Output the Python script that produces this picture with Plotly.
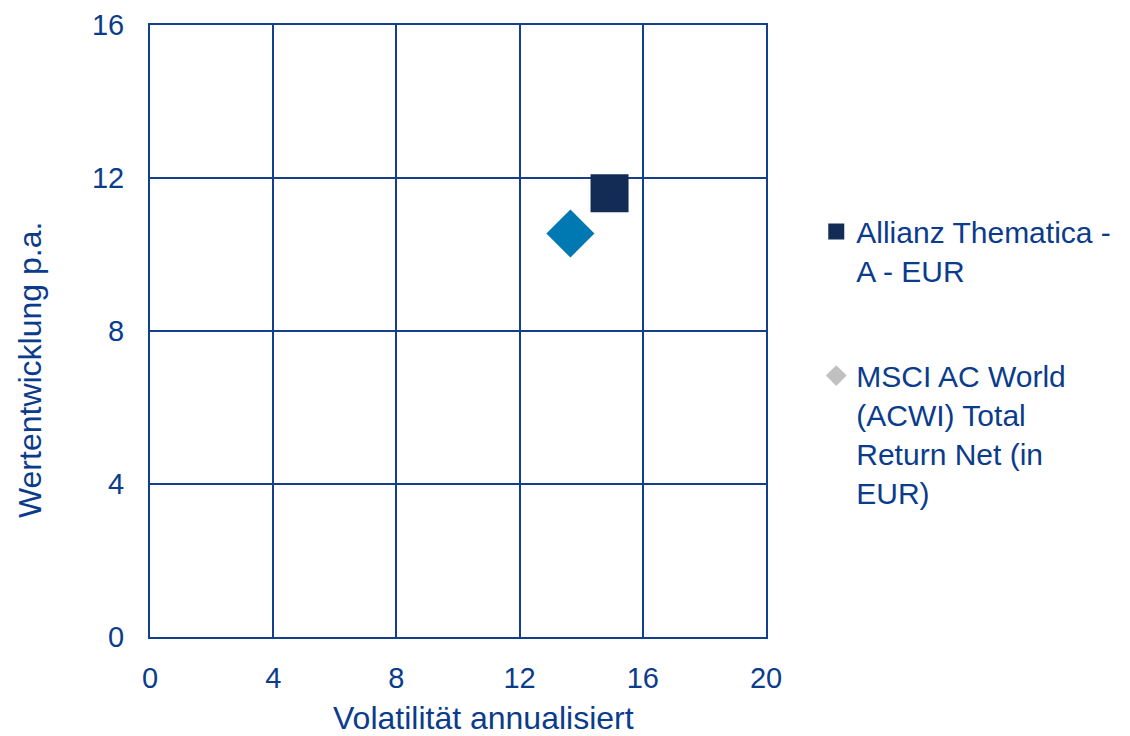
import plotly.graph_objects as go

names = ["Allianz Thematica -<br>A - EUR", "MSCI AC World<br>(ACWI) Total<br>Return Net (in<br>EUR)"]
volatility = [14.92, 13.65]
returns = [11.6, 10.55]
x_ticks = [0, 4, 8, 12, 16, 20]
y_ticks = [0, 4, 8, 12, 16]
x_title = "Volatilität annualisiert"
y_title = "Wertentwicklung p.a."

TXT = "#0b3c8c"
LINE = "#143f8c"
FONT = "Liberation Sans, Arial, sans-serif"

fig = go.Figure()
fig.add_trace(go.Scatter(
    x=[volatility[0]], y=[returns[0]], mode="markers", name=names[0],
    legendgroup="a",
    marker=dict(symbol="square", size=38, color="#132c56"),
))
fig.add_trace(go.Scatter(
    x=[volatility[1]], y=[returns[1]], mode="markers", name=names[1],
    showlegend=False, legendgroup="b",
    marker=dict(symbol="diamond", size=37, color="#0079b3"),
))
# legend-only entry with the grey diamond as in the reference
fig.add_trace(go.Scatter(
    x=[None], y=[None], mode="markers", name=names[1], legendgroup="b",
    marker=dict(symbol="diamond", size=16, color="#c0c0c0"),
))

fig.update_layout(
    width=1130, height=736,
    margin=dict(l=142, r=372, t=17, b=107),
    paper_bgcolor="white", plot_bgcolor="white",
    font=dict(family=FONT, color=TXT, size=28),
    legend=dict(
        x=1.0816, xanchor="left", y=0.705, yanchor="top",
        valign="top", tracegroupgap=63, traceorder="grouped",
        font=dict(size=30, color=TXT, family=FONT),
        bgcolor="rgba(0,0,0,0)",
    ),
    annotations=[
        dict(text=x_title, xref="paper", yref="paper", x=0.542, y=-0.132,
             xanchor="center", yanchor="middle", showarrow=False,
             font=dict(size=32, color=TXT, family=FONT)),
        dict(text=y_title, xref="paper", yref="paper", x=-0.195, y=0.436,
             xanchor="center", yanchor="middle", showarrow=False, textangle=-90,
             font=dict(size=32, color=TXT, family=FONT)),
    ],
)
fig.update_xaxes(
    range=[0, 20], tickvals=x_ticks, showgrid=True, gridcolor=LINE, gridwidth=2,
    showline=True, linecolor=LINE, linewidth=2, mirror=True, zeroline=False,
    ticks="", ticklabelstandoff=14, tickfont=dict(size=29), automargin=False,
    ticklabeloverflow="allow",
)
fig.update_yaxes(
    range=[0, 16], tickvals=y_ticks, showgrid=True, gridcolor=LINE, gridwidth=2,
    showline=True, linecolor=LINE, linewidth=2, mirror=True, zeroline=False,
    ticks="", ticklabelstandoff=18, tickfont=dict(size=29), automargin=False,
    ticklabeloverflow="allow",
)

fig.write_html("out.html")
